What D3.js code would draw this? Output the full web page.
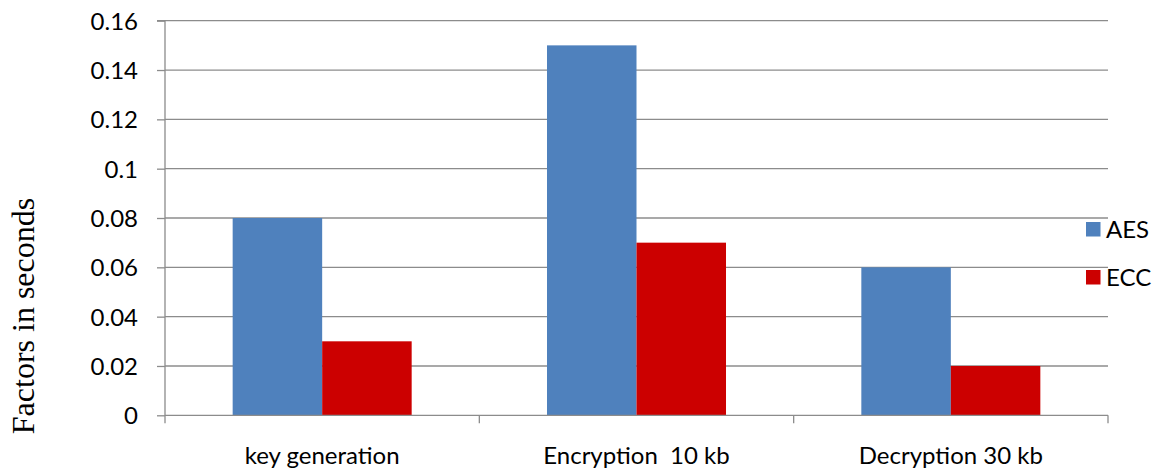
<!DOCTYPE html>
<html><head><meta charset="utf-8">
<script src="https://cdn.jsdelivr.net/npm/d3@7"></script>
<style>body{margin:0;background:#fff}svg{display:block}</style>
</head><body>
<svg id="c" width="1152" height="470"></svg>
<script>
const categories = ["key generation", "Encryption\u00a0\u00a010 kb", "Decryption 30 kb"];
const seriesNames = ["AES", "ECC"];
const aesValues = [0.08, 0.15, 0.06];
const eccValues = [0.03, 0.07, 0.02];
const yTicks = [0, 0.02, 0.04, 0.06, 0.08, 0.1, 0.12, 0.14, 0.16];
const yTickLabels = ["0", "0.02", "0.04", "0.06", "0.08", "0.1", "0.12", "0.14", "0.16"];
const colors = ["#4F81BD", "#CC0000"];

const svg = d3.select("#c");
const L = 165, R = 1108, T = 20.7, B = 415.3;
const font = "Lato, 'Open Sans', sans-serif";
const fs = 24;

const x = d3.scaleBand().domain(categories).range([L, R]).paddingInner(0).paddingOuter(0);
const x1 = d3.scaleBand().domain(seriesNames).range([0, x.bandwidth()]).paddingInner(0).paddingOuter(0.756);
const y = d3.scaleLinear().domain([0, 0.16]).range([B, T]);

// gridlines
svg.append("g").selectAll("line").data(yTicks.slice(1)).join("line")
  .attr("x1", L).attr("x2", R).attr("y1", d => y(d)).attr("y2", d => y(d))
  .attr("stroke", "#8c8c8c").attr("stroke-width", 1.3);

// bars
const series = [aesValues, eccValues];
const g = svg.append("g");
categories.forEach((c, i) => {
  seriesNames.forEach((s, j) => {
    g.append("rect")
      .attr("x", x(c) + x1(s))
      .attr("y", y(series[j][i]))
      .attr("width", x1.bandwidth())
      .attr("height", y(0) - y(series[j][i]))
      .attr("fill", colors[j]);
  });
});

// y axis
const yAxis = d3.axisLeft(y).tickValues(yTicks).tickFormat((d, i) => yTickLabels[i]).tickSize(8).tickPadding(19);
const ya = svg.append("g").attr("transform", `translate(${L},0)`).call(yAxis);
ya.select(".domain").attr("stroke", "#8c8c8c").attr("stroke-width", 1.3).attr("d", `M-8,${T}H0V${B}`);
ya.selectAll(".tick line").attr("stroke", "#8c8c8c").attr("stroke-width", 1.3);
ya.selectAll(".tick text").attr("font-family", font).attr("font-size", fs).attr("fill", "#000").attr("dy", "0.35em");

// x axis
const xa = svg.append("g").attr("transform", `translate(0,${B})`);
xa.append("line").attr("x1", L).attr("x2", R).attr("y1", 0).attr("y2", 0).attr("stroke", "#8c8c8c").attr("stroke-width", 1.3);
const bounds = [L].concat(categories.map(c => x(c) + x.bandwidth()));
xa.selectAll("line.tk").data(bounds).join("line").attr("class", "tk")
  .attr("x1", d => d).attr("x2", d => d).attr("y1", 0).attr("y2", 8)
  .attr("stroke", "#8c8c8c").attr("stroke-width", 1.3);
xa.selectAll("text").data(categories).join("text")
  .attr("x", d => x(d) + x.bandwidth() / 2).attr("y", 49)
  .attr("text-anchor", "middle").attr("font-family", font).attr("font-size", fs).attr("fill", "#000")
  .text(d => d);

// y title
svg.append("text").attr("transform", "translate(34,316) rotate(-90)")
  .attr("text-anchor", "middle").attr("font-family", "'Liberation Serif', 'Times New Roman', serif")
  .attr("font-size", 32).attr("fill", "#000").text("Factors in seconds");

// legend
const lg = svg.append("g");
seriesNames.forEach((s, i) => {
  const yy = 222 + i * 48;
  lg.append("rect").attr("x", 1086).attr("y", yy).attr("width", 14.5).attr("height", 14.5).attr("fill", colors[i]);
  lg.append("text").attr("x", 1106).attr("y", yy + 15.5).attr("font-family", font).attr("font-size", fs).attr("fill", "#000").text(s);
});
</script>
</body></html>
